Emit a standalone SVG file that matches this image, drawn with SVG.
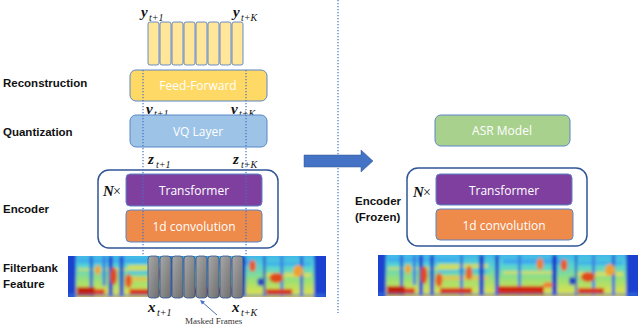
<svg xmlns="http://www.w3.org/2000/svg" width="640" height="326" viewBox="0 0 640 326">
<style>
.lbl{font-family:"Liberation Sans",Arial,sans-serif;font-weight:bold;font-size:11.5px;fill:#111}
.bt{font-family:"Open Sans","Liberation Sans",sans-serif;font-size:12px;fill:#fff;text-anchor:middle}
.m{font-family:"Liberation Serif","Times New Roman",serif;font-weight:bold;font-style:italic;font-size:15px;fill:#111}
.s{font-family:"Liberation Serif","Times New Roman",serif;font-style:italic;font-size:10px;fill:#111}
.box{stroke:#5B86C8;stroke-width:1}
.ybar{fill:#FFE699;stroke:#4472C4;stroke-width:0.8}
.gbar{fill:url(#gg);stroke:#2F5597;stroke-width:0.8}
.dot{stroke:#4472C4;stroke-width:1.2;stroke-dasharray:1.2 1.8;fill:none}
.enc{fill:#fff;stroke:#2F5597;stroke-width:1.5}
</style>
<defs>
<linearGradient id="gg" x1="0" y1="0" x2="1" y2="1">
<stop offset="0" stop-color="#a8a8a8"/><stop offset="1" stop-color="#6e6e6e"/>
</linearGradient>
<linearGradient id="sb" x1="0" y1="0" x2="0" y2="1">
<stop offset="0" stop-color="#3ab0ee"/><stop offset="0.3" stop-color="#58d4d0"/><stop offset="0.6" stop-color="#9ee070"/><stop offset="0.85" stop-color="#d8e050"/><stop offset="1" stop-color="#f0b838"/>
</linearGradient>
<filter id="bl" x="-0.05" y="-0.1" width="1.1" height="1.2"><feGaussianBlur stdDeviation="1.6"/></filter>
<clipPath id="sc"><rect x="0" y="0" width="260" height="41"/></clipPath>
<g id="spec">
<g clip-path="url(#sc)"><g filter="url(#bl)">
<rect x="-3" y="-3" width="266" height="47" fill="url(#sb)"/>
<rect x="10" y="3" width="70" height="4" fill="#3aa8f0" opacity="0.8"/>
<rect x="10" y="12" width="70" height="3" fill="#f0e040" opacity="0.6"/>
<rect x="60" y="9" width="50" height="4" fill="#e8e040" opacity="0.8"/>
<rect x="60" y="21" width="50" height="4" fill="#f0c040" opacity="0.8"/>
<rect x="60" y="15" width="50" height="3" fill="#40c0e8" opacity="0.8"/>
<rect x="125" y="4" width="60" height="5" fill="#3aa0f0" opacity="0.8"/>
<rect x="125" y="16" width="50" height="3" fill="#f0e050" opacity="0.7"/>
<rect x="200" y="17" width="45" height="4" fill="#e8e050" opacity="0.8"/>
<rect x="200" y="6" width="45" height="4" fill="#3aa8f0" opacity="0.7"/>
<rect x="-3" y="-3" width="11" height="47" fill="#1f3fcf"/>
<rect x="22" y="0" width="3" height="41" fill="#2a5ad8"/>
<rect x="41" y="0" width="4" height="41" fill="#2040d0"/>
<rect x="52" y="0" width="4" height="41" fill="#2448d0"/>
<rect x="35" y="0" width="3" height="30" fill="#3a7ae0"/>
<rect x="82" y="0" width="3" height="41" fill="#3070e0"/>
<rect x="101" y="0" width="5" height="41" fill="#2244cc"/>
<rect x="117" y="0" width="4" height="41" fill="#2550d0"/>
<rect x="140" y="0" width="3" height="41" fill="#3a80e0"/>
<rect x="174" y="0" width="5" height="41" fill="#1d38c8"/>
<rect x="197" y="0" width="2" height="41" fill="#1d38c8"/>
<rect x="214" y="0" width="3" height="41" fill="#3d7ee0"/>
<rect x="234" y="0" width="3" height="41" fill="#2a58d8"/>
<rect x="248" y="-3" width="15" height="47" fill="#1f3fcf"/>
<rect x="9" y="31" width="18" height="9" fill="#c01a10"/>
<rect x="27" y="33" width="10" height="6" fill="#e04020"/>
<ellipse cx="46" cy="20" rx="3.5" ry="9" fill="#e04a20"/>
<ellipse cx="61" cy="25" rx="3.5" ry="7" fill="#e85a20"/>
<ellipse cx="91" cy="18" rx="3.5" ry="7" fill="#e86030"/>
<ellipse cx="30" cy="14" rx="2.5" ry="5" fill="#f0a030"/>
<rect x="62" y="33" width="32" height="6" fill="#d83018"/>
<rect x="120" y="31" width="46" height="9" fill="#d02810"/>
<ellipse cx="162" cy="9" rx="3.5" ry="6" fill="#ee7a30"/>
<ellipse cx="186" cy="10" rx="3.5" ry="6" fill="#e85a28"/>
<ellipse cx="170" cy="30" rx="5" ry="3" fill="#f08030"/>
<ellipse cx="210" cy="22" rx="7" ry="5" fill="#e04818"/>
<rect x="200" y="33" width="26" height="6" fill="#d83018"/>
<ellipse cx="232" cy="15" rx="5" ry="6" fill="#f0a030"/>
<ellipse cx="194" cy="26" rx="3" ry="4" fill="#2040c0"/>
<rect x="0" y="38" width="260" height="3" fill="#4090e0" opacity="0.5"/>
</g></g>
</g>
</defs>

<!-- separator -->
<line x1="338" y1="0" x2="338" y2="313" class="dot"/>

<!-- left labels -->
<g id="labels">
<text class="lbl" x="3" y="87">Reconstruction</text>
<text class="lbl" x="3" y="136">Quantization</text>
<text class="lbl" x="3" y="213">Encoder</text>
<text class="lbl" x="3" y="272">Filterbank</text>
<text class="lbl" x="3" y="288">Feature</text>
</g>

<!-- outputs -->
<g id="outputs">
<rect class="ybar" x="148" y="22" width="11" height="43" rx="2"/>
<rect class="ybar" x="160" y="22" width="11" height="43" rx="2"/>
<rect class="ybar" x="172" y="22" width="11" height="43" rx="2"/>
<rect class="ybar" x="184" y="22" width="11" height="43" rx="2"/>
<rect class="ybar" x="196" y="22" width="11" height="43" rx="2"/>
<rect class="ybar" x="208" y="22" width="11" height="43" rx="2"/>
<rect class="ybar" x="220" y="22" width="11" height="43" rx="2"/>
<rect class="ybar" x="232" y="22" width="11" height="43" rx="2"/>
<text class="m" x="141" y="17">y</text><text class="s" x="149" y="21">t+1</text>
<text class="m" x="233" y="17">y</text><text class="s" x="241" y="21">t+K</text>
</g>

<g id="feedforward">
<rect class="box" x="130" y="70" width="137" height="31" rx="6" fill="#FFD966"/>
<text class="bt" x="198" y="90">Feed-Forward</text>
</g>

<g id="vq">
<text class="m" x="146" y="114">v</text><text class="s" x="154" y="117">t+1</text>
<text class="m" x="231" y="114">v</text><text class="s" x="239" y="117">t+K</text>
<rect class="box" x="130" y="115" width="137" height="32" rx="6" fill="#9DC3E6"/>
<text class="bt" x="198" y="136">VQ Layer</text>
<text class="m" x="148" y="164">z</text><text class="s" x="156" y="168">t+1</text>
<text class="m" x="233" y="164">z</text><text class="s" x="241" y="168">t+K</text>
</g>

<g id="encoder-left">
<rect class="enc" x="98" y="170" width="180" height="78" rx="11"/>
<text class="m" x="103" y="196">N</text><text x="113" y="196" style="font-family:'Liberation Serif',serif;font-size:14px;fill:#111">×</text>
<rect class="box" x="126" y="174" width="136" height="32" rx="4" fill="#7F3F9F"/>
<text class="bt" x="194" y="195">Transformer</text>
<rect class="box" x="126" y="210" width="136" height="32" rx="4" fill="#EE8A4A"/>
<text class="bt" x="194" y="231">1d convolution</text>
</g>

<g id="filterbank-left">
<use href="#spec" transform="translate(68,256) scale(0.992,1)"/>
<rect class="gbar" x="148" y="256" width="11" height="42" rx="3"/>
<rect class="gbar" x="160" y="256" width="11" height="42" rx="3"/>
<rect class="gbar" x="172" y="256" width="11" height="42" rx="3"/>
<rect class="gbar" x="184" y="256" width="11" height="42" rx="3"/>
<rect class="gbar" x="196" y="256" width="11" height="42" rx="3"/>
<rect class="gbar" x="208" y="256" width="11" height="42" rx="3"/>
<rect class="gbar" x="220" y="256" width="11" height="42" rx="3"/>
<rect class="gbar" x="232" y="256" width="11" height="42" rx="3"/>
<text class="m" x="148" y="312">x</text><text class="s" x="157" y="316">t+1</text>
<text class="m" x="232" y="312">x</text><text class="s" x="241" y="316">t+K</text>
<text x="185" y="324" style="font-family:'Liberation Serif',serif;font-size:9px;fill:#333">Masked Frames</text>
</g>

<!-- connectors -->
<g id="connectors">
<line x1="143" y1="70" x2="143" y2="256" class="dot"/>
<line x1="246" y1="70" x2="246" y2="256" class="dot"/>
<line x1="217" y1="315" x2="201" y2="301" stroke="#4472C4" stroke-width="1"/>
<polygon points="200,300 205,301.5 202,304.5" fill="#4472C4"/>
<polygon points="304,155 361,155 361,150 373,161 361,172 361,167 304,167" fill="#4472C4" stroke="#2F5597" stroke-width="0.5"/>
</g>

<g id="asr">
<rect class="box" x="435" y="115" width="135" height="31" rx="6" fill="#A9D18E"/>
<text class="bt" x="502" y="135">ASR Model</text>
</g>

<g id="encoder-right">
<text class="lbl" x="355" y="205">Encoder</text>
<text class="lbl" x="355" y="221">(Frozen)</text>
<rect class="enc" x="407" y="168" width="180" height="78" rx="11"/>
<text class="m" x="413" y="197">N</text><text x="423" y="197" style="font-family:'Liberation Serif',serif;font-size:14px;fill:#111">×</text>
<rect class="box" x="436" y="174" width="136" height="31" rx="4" fill="#7F3F9F"/>
<text class="bt" x="504" y="195">Transformer</text>
<rect class="box" x="436" y="209" width="137" height="31" rx="4" fill="#EE8A4A"/>
<text class="bt" x="504" y="230">1d convolution</text>
</g>

<g id="filterbank-right">
<use href="#spec" transform="translate(378,255)"/>
</g>
</svg>
